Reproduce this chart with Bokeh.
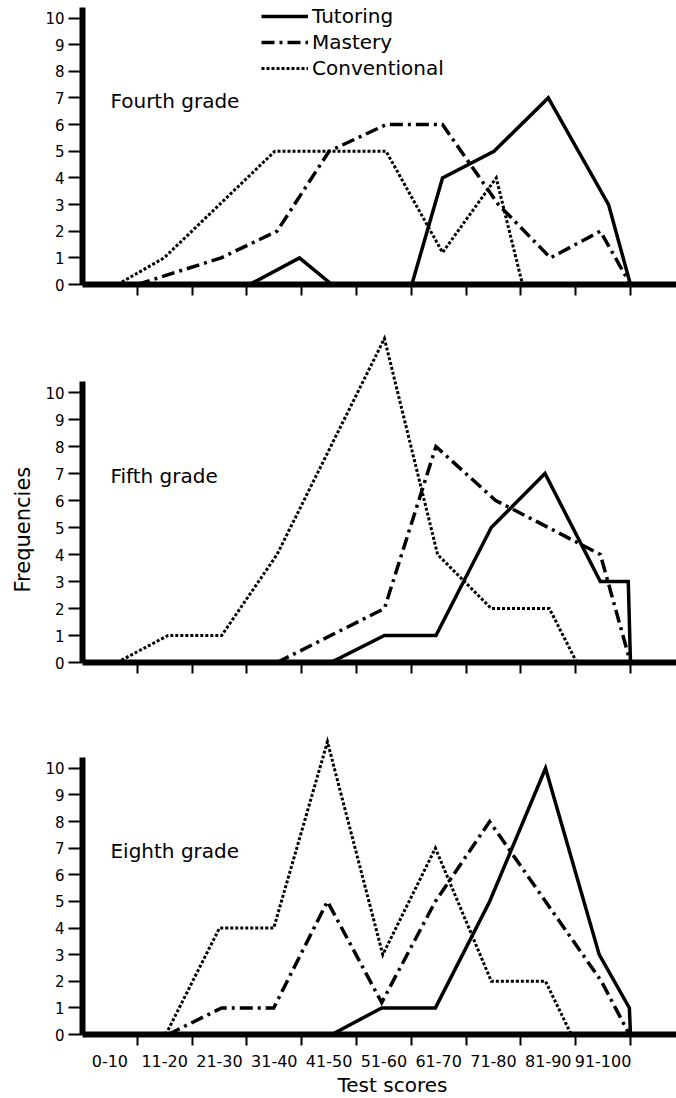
from bokeh.plotting import figure
from bokeh.models import Range1d, FixedTicker, Legend, LegendItem, Label, Title
from bokeh.layouts import column
from bokeh.embed import file_html
from bokeh.resources import INLINE

FONT = "DejaVu Sans"

# ---------------- data ----------------
categories = ["0-10", "11-20", "21-30", "31-40", "41-50",
              "51-60", "61-70", "71-80", "81-90", "91-100"]
class_bounds = [10, 20, 30, 40, 50, 60, 70, 80, 90, 100]
class_mids = [5, 15, 25, 35, 45, 55, 65, 75, 85, 95]
freq_ticks = [0, 1, 2, 3, 4, 5, 6, 7, 8, 9, 10]

# Fourth grade
g4_tut_x = [30.5, 39.6, 45.5, 60.1, 65.7, 75.1, 85.0, 96.0, 100.0]
g4_tut_y = [0, 1, 0, 0, 4, 5, 7, 3, 0]
g4_mas_x = [10.0, 25.3, 35.5, 45.0, 55.4, 65.7, 75.9, 85.4, 94.5, 100.0]
g4_mas_y = [0, 1, 2, 5, 6, 6, 3, 1, 2, 0]
g4_con_x = [6.4, 14.9, 35.1, 55.4, 65.7, 75.5, 80.3]
g4_con_y = [0, 1, 5, 5, 1.2, 4, 0]

# Fifth grade
g5_tut_x = [45.3, 55.1, 64.5, 74.6, 84.4, 94.5, 99.6, 100.0]
g5_tut_y = [0, 1, 1, 5, 7, 3, 3, 0]
g5_mas_x = [35.5, 55.1, 64.5, 75.4, 85.0, 94.5, 100.0]
g5_mas_y = [0, 2, 8, 6, 5, 4, 0]
g5_con_x = [6.3, 15.6, 25.4, 35.5, 55.1, 64.8, 74.6, 85.2, 90.2]
g5_con_y = [0, 1, 1, 4, 12, 4, 2, 2, 0]

# Eighth grade
g8_tut_x = [45.5, 54.6, 64.4, 74.3, 84.5, 94.3, 99.8, 100.0]
g8_tut_y = [0, 1, 1, 5, 10, 3, 1, 0]
g8_mas_x = [15.6, 25.4, 34.9, 44.7, 54.6, 64.4, 74.3, 84.5, 94.7, 99.8]
g8_mas_y = [0, 1, 1, 5, 1.2, 5, 8, 5, 2, 0]
g8_con_x = [15.2, 25.0, 34.9, 44.7, 54.8, 64.4, 74.6, 84.5, 89.2]
g8_con_y = [0, 4, 4, 11, 3, 7, 2, 2, 0]

grade_names = ["Fourth grade", "Fifth grade", "Eighth grade"]
series_names = ["Tutoring", "Mastery", "Conventional"]
y_title = "Frequencies"
x_title = "Test scores"

# ---------------- styles ----------------
STYLES = {
    "Tutoring": dict(line_width=3.5, line_dash="solid"),
    "Mastery": dict(line_width=3.5, line_dash="13 5 3 5"),
    "Conventional": dict(line_width=3, line_dash="3 2"),
}
X_END = 108.4
WIDTH = 676
LEFT = 82


def make_panel(height, y_end, border_bottom, show_cats=False):
    p = figure(width=WIDTH, height=height,
               x_range=Range1d(0, X_END), y_range=Range1d(0, y_end),
               output_backend="svg", toolbar_location=None,
               min_border_left=LEFT, min_border_right=0,
               min_border_top=0, min_border_bottom=border_bottom)
    p.outline_line_color = None
    p.grid.visible = False
    p.background_fill_color = "white"
    p.border_fill_color = "white"

    xa = p.xaxis[0]
    xa.ticker = FixedTicker(ticks=class_mids if show_cats else [], minor_ticks=class_bounds)
    xa.axis_line_width = 6
    xa.axis_line_color = "black"
    xa.major_tick_out = 0
    xa.major_tick_in = 0
    xa.minor_tick_out = 11
    xa.minor_tick_in = 0
    xa.minor_tick_line_width = 2
    xa.minor_tick_line_color = "black"
    if show_cats:
        xa.major_label_overrides = {m: c for m, c in zip(class_mids, categories)}
        xa.major_label_text_font = FONT
        xa.major_label_text_font_size = "16px"
        xa.major_label_text_color = "black"
        xa.major_label_standoff = 9
    else:
        xa.major_label_text_font_size = "0px"

    ya = p.yaxis[0]
    ya.ticker = FixedTicker(ticks=freq_ticks, minor_ticks=[])
    ya.bounds = (0, 10.4)
    ya.axis_line_width = 6
    ya.axis_line_color = "black"
    ya.major_tick_out = 14
    ya.major_tick_in = 0
    ya.major_tick_line_width = 2
    ya.major_tick_line_color = "black"
    ya.minor_tick_out = 0
    ya.minor_tick_in = 0
    ya.major_label_text_font = FONT
    ya.major_label_text_font_size = "15px"
    ya.major_label_text_color = "black"
    ya.major_label_standoff = 4
    return p


def draw_series(p, xs, ys, name):
    st = STYLES[name]
    return p.line(xs, ys, line_color="black", line_width=st["line_width"],
                  line_dash=st["line_dash"], line_join="miter")


# heights: 308 + 414 + 376 = 1098
p1 = make_panel(308, 284 / 26.65, 24)
p2 = make_panel(414, 354 / 27.0, 60)
p3 = make_panel(376, 313 / 26.7, 63, show_cats=True)

panels = [
    (p1, [(g4_tut_x, g4_tut_y), (g4_mas_x, g4_mas_y), (g4_con_x, g4_con_y)]),
    (p2, [(g5_tut_x, g5_tut_y), (g5_mas_x, g5_mas_y), (g5_con_x, g5_con_y)]),
    (p3, [(g8_tut_x, g8_tut_y), (g8_mas_x, g8_mas_y), (g8_con_x, g8_con_y)]),
]

legend_renderers = []
for i, (p, series) in enumerate(panels):
    rs = []
    for (xs, ys), name in zip(series, series_names):
        rs.append(draw_series(p, xs, ys, name))
    if i == 0:
        legend_renderers = rs
    p.add_layout(Label(x=5.1, y=6.9, text=grade_names[i], text_font=FONT,
                       text_font_size="20px", text_color="black",
                       text_baseline="alphabetic"))

# shared y-axis title (left of the middle panel), starting up from near the 0 line
p2.add_layout(Title(text=y_title, align="left", offset=70, standoff=16,
                    text_font=FONT, text_font_size="21px",
                    text_font_style="normal", text_color="black"), "left")

# x-axis title below the bottom panel
p3.add_layout(Title(text=x_title, align="left", offset=255, standoff=3,
                    text_font=FONT, text_font_size="20px",
                    text_font_style="normal", text_color="black"), "below")

legend = Legend(
    items=[LegendItem(label=n, renderers=[r]) for n, r in zip(series_names, legend_renderers)],
    location=(179, 204), orientation="vertical",
    label_text_font=FONT, label_text_font_size="20px", label_text_color="black",
    label_standoff=4, glyph_width=47, glyph_height=20, label_height=20,
    spacing=2, padding=0, margin=0,
    border_line_alpha=0, background_fill_alpha=0,
)
p1.add_layout(legend)

layout = column(p1, p2, p3, spacing=0)

open("out.html", "w").write(file_html(layout, INLINE))
